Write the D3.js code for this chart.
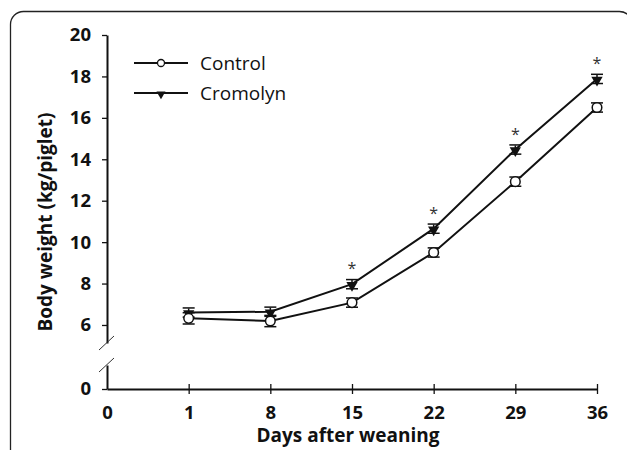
<!DOCTYPE html>
<html>
<head>
<style>
  body { margin: 0; background: #fff; }
  svg { display: block; font-family: "Open Sans", Arial, sans-serif; }
</style>
</head>
<body>
<svg id="chart" width="627" height="450"></svg>
<script src="https://d3js.org/d3.v7.min.js"></script>
<script>
// data
const days = ["0", "1", "8", "15", "22", "29", "36"];
const dataDays = ["1", "8", "15", "22", "29", "36"];
const control = [6.32, 6.19, 7.08, 9.5, 12.92, 16.5];
const controlErr = [0.2, 0.2, 0.15, 0.15, 0.15, 0.15];
const cromolyn = [6.6, 6.64, 7.97, 10.65, 14.47, 17.88];
const cromolynErr = [0.15, 0.15, 0.15, 0.15, 0.15, 0.15];
const starDays = ["15", "22", "29", "36"];
const yTicks = [6, 8, 10, 12, 14, 16, 18, 20];

const svg = d3.select("#chart");

// frame
svg.append("rect")
  .attr("x", 10.5).attr("y", 11.5)
  .attr("width", 622).attr("height", 480)
  .attr("rx", 13)
  .attr("fill", "none").attr("stroke", "#222").attr("stroke-width", 1.3);

const x = d3.scalePoint().domain(days).range([107, 597]);
const y = d3.scaleLinear().domain([5.13, 20]).range([343, 35]);
const yLow = d3.scaleLinear().domain([0, 1.15]).range([389, 365]);

const tickFont = g => g.selectAll("text")
  .attr("font-size", 18.5).attr("font-weight", "bold")
  .attr("fill", "#111").attr("font-family", "'Open Sans', Arial, sans-serif");

// upper y axis
const yAxisG = svg.append("g").attr("transform", "translate(107,0)")
  .call(d3.axisLeft(y).tickValues(yTicks).tickSize(5).tickPadding(11).tickSizeOuter(0));
// lower y axis
const yLowG = svg.append("g").attr("transform", "translate(107,0)")
  .call(d3.axisLeft(yLow).tickValues([0]).tickFormat(d3.format("d"))
    .tickSize(5).tickPadding(11).tickSizeOuter(0));
[yAxisG, yLowG].forEach(g => {
  g.select(".domain").attr("stroke", "#111").attr("stroke-width", 2);
  g.selectAll(".tick line").attr("stroke", "#111").attr("stroke-width", 1.3);
  tickFont(g);
});

// break marks
svg.append("g").selectAll("line")
  .data([y.domain()[0], yLow.domain()[1]])
  .join("line")
  .attr("x1", 99).attr("x2", 114)
  .attr("y1", (d, i) => (i === 0 ? y(d) : yLow(d)) + 7)
  .attr("y2", (d, i) => (i === 0 ? y(d) : yLow(d)) - 7)
  .attr("stroke", "#333").attr("stroke-width", 1);

// x axis
const xAxisG = svg.append("g").attr("transform", "translate(0,389)")
  .call(d3.axisBottom(x).tickSize(5).tickPadding(12).tickSizeOuter(0));
xAxisG.select(".domain").attr("stroke", "#111").attr("stroke-width", 2);
xAxisG.selectAll(".tick line").attr("stroke", "#111").attr("stroke-width", 1.3).attr("y1", -5);
tickFont(xAxisG);
xAxisG.selectAll(".tick").filter(d => d === "0").select("line").remove();

// axis titles
svg.append("text")
  .attr("transform", "translate(52,222) rotate(-90)")
  .attr("text-anchor", "middle")
  .attr("font-size", 19).attr("font-weight", "bold").attr("fill", "#111")
  .text("Body weight (kg/piglet)");
svg.append("text")
  .attr("x", 348).attr("y", 442)
  .attr("text-anchor", "middle")
  .attr("font-size", 19).attr("font-weight", "bold").attr("fill", "#111")
  .text("Days after weaning");

const line = d3.line().x(d => x(d.day)).y(d => y(d.v));
const ctrl = dataDays.map((d, i) => ({ day: d, v: control[i], e: controlErr[i] }));
const crom = dataDays.map((d, i) => ({ day: d, v: cromolyn[i], e: cromolynErr[i] }));

[ctrl, crom].forEach(series => {
  svg.append("path").datum(series)
    .attr("d", line).attr("fill", "none")
    .attr("stroke", "#111").attr("stroke-width", 2);
  // error bars
  const eb = svg.append("g").selectAll("g").data(series).join("g")
    .attr("stroke", "#111").attr("stroke-width", 1.5);
  eb.append("line")
    .attr("x1", d => x(d.day)).attr("x2", d => x(d.day))
    .attr("y1", d => y(d.v - d.e) + 1).attr("y2", d => y(d.v + d.e) - 1);
  [1, -1].forEach(s => {
    eb.append("line")
      .attr("x1", d => x(d.day) - 6).attr("x2", d => x(d.day) + 6)
      .attr("y1", d => y(d.v + s * d.e) - s * 1.5)
      .attr("y2", d => y(d.v + s * d.e) - s * 1.5);
  });
});

// markers
const tri = d3.symbol().type(d3.symbolTriangle).size(55);
svg.append("g").selectAll("path").data(crom).join("path")
  .attr("d", tri)
  .attr("transform", d => `translate(${x(d.day)},${y(d.v) + 1}) rotate(180)`)
  .attr("fill", "#111");
svg.append("g").selectAll("circle").data(ctrl).join("circle")
  .attr("cx", d => x(d.day)).attr("cy", d => y(d.v)).attr("r", 4.8)
  .attr("fill", "#fff").attr("stroke", "#111").attr("stroke-width", 1.5);

// significance stars
svg.append("g").selectAll("text").data(crom.filter(d => starDays.includes(d.day))).join("text")
  .attr("x", d => x(d.day)).attr("y", d => y(d.v) - 10)
  .attr("text-anchor", "middle")
  .attr("font-size", 16).attr("fill", "#333")
  .text("*");

// legend
const legendItems = [
  { name: "Control", type: "circle", y: 63 },
  { name: "Cromolyn", type: "tri", y: 93 }
];
const lg = svg.append("g").selectAll("g").data(legendItems).join("g")
  .attr("transform", d => `translate(0,${d.y})`);
lg.append("line").attr("x1", 134).attr("x2", 188)
  .attr("stroke", "#111").attr("stroke-width", 2);
lg.filter(d => d.type === "circle").append("circle")
  .attr("cx", 161).attr("r", 3.5)
  .attr("fill", "#fff").attr("stroke", "#111").attr("stroke-width", 1.3);
lg.filter(d => d.type === "tri").append("path")
  .attr("d", d3.symbol().type(d3.symbolTriangle).size(35))
  .attr("transform", "translate(161,1) rotate(180)").attr("fill", "#111");
lg.append("text").attr("x", 200).attr("y", 7)
  .attr("font-size", 19).attr("fill", "#111")
  .text(d => d.name);
</script>
</body>
</html>
